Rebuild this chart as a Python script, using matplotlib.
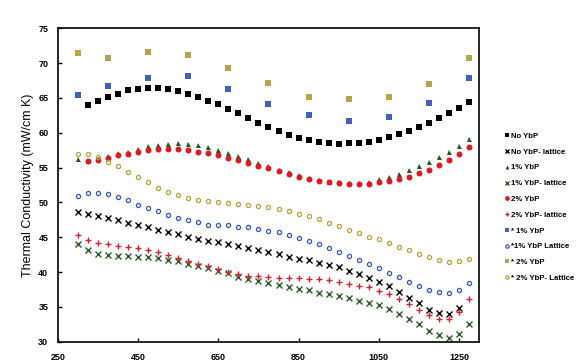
import matplotlib
matplotlib.use("Agg")
import matplotlib.pyplot as plt

plt.rcParams['font.family'] = ['Liberation Sans', 'DejaVu Sans']

# temperaturas (grilla de 25 en 25)
t_300_1275 = [300, 325, 350, 375, 400, 425, 450, 475, 500, 525, 550, 575, 600, 625, 650, 675,
              700, 725, 750, 775, 800, 825, 850, 875, 900, 925, 950, 975, 1000, 1025, 1050,
              1075, 1100, 1125, 1150, 1175, 1200, 1225, 1250, 1275]
t_325_1275 = t_300_1275[1:]
t_300_1250 = t_300_1275[:-1]
t_star = [300, 375, 475, 575, 675, 775, 875, 975, 1075, 1175, 1275]

no_ybp = [64.0, 64.6, 65.1, 65.6, 66.1, 66.3, 66.4, 66.4, 66.3, 66.0, 65.6, 65.1, 64.6, 64.1,
          63.4, 62.8, 62.1, 61.4, 60.8, 60.3, 59.7, 59.3, 59.0, 58.7, 58.5, 58.4, 58.5, 58.6,
          58.7, 59.0, 59.4, 59.8, 60.3, 60.9, 61.4, 62.1, 62.9, 63.6, 64.4]
no_ybp_lat = [48.6, 48.3, 48.1, 47.8, 47.5, 47.1, 46.8, 46.4, 46.1, 45.7, 45.4, 45.1, 44.8,
              44.5, 44.3, 44.1, 43.7, 43.5, 43.2, 42.9, 42.6, 42.2, 41.9, 41.7, 41.3, 41.0,
              40.7, 40.2, 39.7, 39.2, 38.6, 38.0, 37.2, 36.3, 35.5, 34.6, 34.1, 34.0, 34.8]
ybp1 = [56.3, 55.9, 56.2, 56.6, 57.1, 57.3, 57.7, 58.1, 58.3, 58.4, 58.5, 58.4, 58.2, 58.0,
        57.5, 57.1, 56.7, 56.2, 55.7, 55.2, 54.7, 54.3, 53.9, 53.5, 53.2, 53.0, 52.9, 52.8,
        52.8, 53.0, 53.4, 53.7, 54.1, 54.6, 55.2, 55.8, 56.5, 57.2, 58.1, 59.1]
ybp1_lat = [44.1, 43.1, 42.6, 42.4, 42.3, 42.3, 42.2, 42.2, 42.0, 41.7, 41.6, 41.2, 40.9,
            40.6, 40.2, 39.8, 39.3, 39.0, 38.7, 38.4, 38.1, 37.8, 37.6, 37.4, 37.0, 36.8,
            36.5, 36.3, 35.9, 35.6, 35.2, 34.7, 34.0, 33.2, 32.5, 31.6, 30.9, 30.6, 31.1, 32.6]
ybp2 = [55.9, 56.1, 56.4, 56.8, 57.0, 57.3, 57.5, 57.6, 57.6, 57.6, 57.5, 57.3, 57.1, 56.8,
        56.4, 56.1, 55.7, 55.3, 54.9, 54.5, 54.1, 53.7, 53.4, 53.1, 52.9, 52.8, 52.7, 52.6,
        52.7, 52.9, 53.1, 53.4, 53.7, 54.2, 54.7, 55.4, 56.1, 56.9, 57.9]
ybp2_lat = [45.3, 44.6, 44.2, 44.0, 43.8, 43.6, 43.5, 43.2, 42.9, 42.5, 42.0, 41.6, 41.2,
            40.8, 40.4, 40.0, 39.7, 39.4, 39.4, 39.3, 39.2, 39.2, 39.1, 39.0, 39.0, 38.8,
            38.6, 38.3, 38.0, 37.8, 37.3, 36.8, 36.1, 35.4, 34.6, 33.9, 33.3, 33.3, 34.2, 36.1]
s_ybp1 = [65.4, 66.7, 67.9, 68.2, 66.3, 64.2, 62.5, 61.7, 62.3, 64.3, 67.8]
s_ybp1_lat = [50.9, 51.3, 51.4, 51.2, 50.8, 50.3, 49.7, 49.2, 48.7, 48.2, 47.8, 47.5, 47.2,
              46.8, 46.7, 46.7, 46.5, 46.4, 46.2, 45.9, 45.7, 45.3, 44.9, 44.5, 44.0, 43.4,
              42.9, 42.3, 41.7, 41.1, 40.6, 39.9, 39.3, 38.6, 38.0, 37.4, 37.1, 37.0, 37.4, 38.4]
s_ybp2 = [71.4, 70.8, 71.6, 71.1, 69.3, 67.2, 65.1, 64.9, 65.1, 67.0, 70.8]
s_ybp2_lat = [57.0, 56.9, 56.5, 55.8, 55.2, 54.4, 53.6, 52.9, 52.1, 51.5, 51.0, 50.6, 50.3,
              50.2, 50.0, 49.9, 49.8, 49.7, 49.5, 49.3, 49.1, 48.8, 48.4, 48.0, 47.6, 47.1,
              46.6, 46.1, 45.6, 45.1, 44.7, 44.2, 43.6, 43.1, 42.6, 42.1, 41.7, 41.5, 41.6, 41.9]

fig = plt.figure(figsize=(5.85, 3.61), dpi=100)
ax = fig.add_axes([0.0991, 0.0535, 0.7197, 0.868])

ax.plot(t_325_1275, no_ybp, 's', color='black', ms=3.8, mew=0, label='No YbP')
ax.plot(t_300_1250, no_ybp_lat, 'x', color='black', ms=3.8, mew=1.0, label='No YbP- lattice')
ax.plot(t_300_1275, ybp1, '^', color='#1f5a1c', ms=3.6, mew=0, label='1% YbP')
ax.plot(t_300_1275, ybp1_lat, 'x', color='#2c5e26', ms=3.8, mew=1.0, label='1% YbP- lattice')
ax.plot(t_325_1275, ybp2, 'o', color='#dc1a22', ms=4.3, mew=0, label='2% YbP')
ax.plot(t_300_1275, ybp2_lat, '+', color='#d8202c', ms=4.3, mew=1.0, label='2% YbP- lattice')
ax.plot(t_star, s_ybp1, 's', color='#3f62c2', ms=3.8, mew=0, label='* 1% YbP')
ax.plot(t_300_1275, s_ybp1_lat, 'o', mfc='none', mec='#3355c8', ms=3.0, mew=0.9,
        label='*1% YbP Lattice')
ax.plot(t_star, s_ybp2, 's', color='#b4a64c', ms=3.8, mew=0, label='* 2% YbP')
ax.plot(t_300_1275, s_ybp2_lat, 'o', mfc='none', mec='#b3a236', ms=3.0, mew=0.9,
        label='* 2% YbP- Lattice')

ax.set_xlim(250, 1300)
ax.set_ylim(30, 75)
ax.set_xticks([250, 450, 650, 850, 1050, 1250])
ax.set_yticks([30, 35, 40, 45, 50, 55, 60, 65, 70, 75])
ax.tick_params(axis='both', direction='in', length=3, width=1, labelsize=6.5)
ax.tick_params(axis='x', pad=8)
ax.tick_params(axis='y', pad=7)
for lab in ax.get_xticklabels() + ax.get_yticklabels():
    lab.set_fontweight('bold')
for s in ax.spines.values():
    s.set_linewidth(1.2)
ax.set_ylabel('Thermal Conductivity (mW/cm K)', fontsize=9, labelpad=3)

leg = fig.legend(loc='upper left', bbox_to_anchor=(0.862, 0.633), frameon=False,
                 fontsize=5.6, numpoints=1, markerscale=0.8, handlelength=0.6,
                 handletextpad=0.3, labelspacing=1.07, borderpad=0, borderaxespad=0)
for txt in leg.get_texts():
    txt.set_fontweight('bold')

fig.savefig('out.png', dpi=100)
